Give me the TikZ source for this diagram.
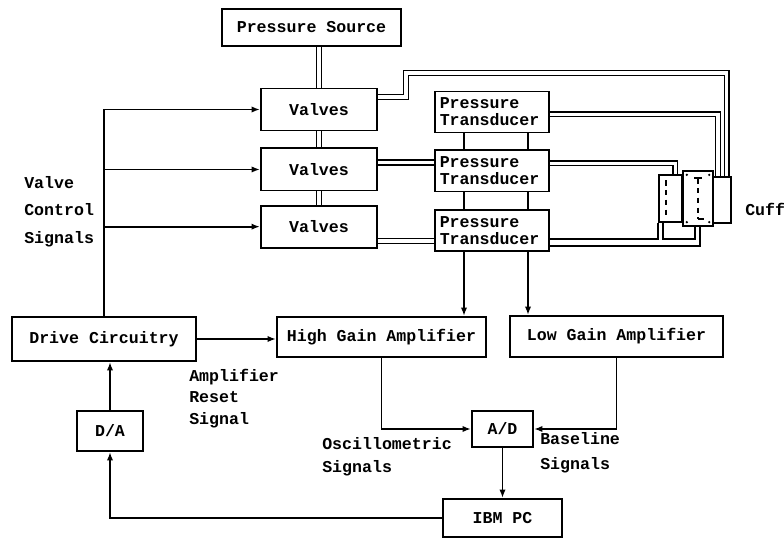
\documentclass[tikz,border=0pt]{standalone}
\usepackage{fontspec}
\setmonofont{Liberation Mono}
\usetikzlibrary{arrows.meta,positioning,calc}
\newcommand{\lblfont}{\fontsize{11.8}{14}\selectfont\ttfamily\bfseries}

\begin{document}
\begin{tikzpicture}[x=0.025cm, y=-0.025cm, >={Latex[length=6pt,width=4.5pt]}, every node/.style={font=\lblfont}]
\tikzstyle{box}=[draw, line width=1.4pt, inner sep=0pt, align=center]
\tikzstyle{tbox}=[box, align=left, inner xsep=0.12cm, text width=2.61cm, minimum height=1.025cm]
\tikzstyle{lbl}=[inner sep=0pt, align=left, anchor=west]
\tikzstyle{pipe}=[double, line width=1pt, double distance=2.3pt]
\tikzstyle{sig}=[line width=1.3pt]
\useasboundingbox (0,0) rectangle (784,538);
% valves and transducers
\node[box, minimum width=4.475cm, minimum height=0.925cm] (src) at (311.5,27.5) {Pressure Source};
\node[box, minimum width=2.9cm, minimum height=1.05cm] (v1) at (319,109.5) {Valves};
\node[box, minimum width=2.9cm, minimum height=1.05cm, below=0.4cm of v1] (v2) {Valves};
\node[box, minimum width=2.9cm, minimum height=1.05cm, below=0.33cm of v2] (v3) {Valves};
\node[tbox] (pt1) at (492,112) {Pressure\\[-2pt]Transducer};
\node[tbox, below=0.4cm of pt1] (pt2) {Pressure\\[-2pt]Transducer};
\node[tbox, below=0.42cm of pt2] (pt3) {Pressure\\[-2pt]Transducer};
% cuff
\node[box, minimum width=0.575cm, minimum height=1.175cm] (cl) at (670.5,198.5) {};
\node[box, minimum width=0.75cm, minimum height=1.375cm] (cm) at (698,198.5) {};
\node[box, minimum width=0.45cm, minimum height=1.15cm] (cr) at (722,200) {};
\draw[sig, dash pattern=on 4pt off 3pt] ([xshift=-0.11cm,yshift=-0.15cm]cl.north) -- ([xshift=-0.11cm,yshift=0.15cm]cl.south);
\draw[sig, dash pattern=on 4pt off 3pt] ([yshift=-0.2cm]cm.north) -- ([yshift=0.2cm]cm.south);
\draw[sig] ([xshift=-0.1cm,yshift=-0.2cm]cm.north) -- ([xshift=0.1cm,yshift=-0.2cm]cm.north);
\draw[sig] ([yshift=0.2cm]cm.south) -- ([xshift=0.15cm,yshift=0.2cm]cm.south);
\foreach \dx/\dy in {-0.28/-0.12, 0.28/-0.12} \fill ([xshift=\dx cm,yshift=\dy cm]cm.north) circle (0.9pt);
\foreach \dx/\dy in {-0.28/0.12, 0.28/0.12} \fill ([xshift=\dx cm,yshift=\dy cm]cm.south) circle (0.9pt);
\node[lbl] (cuff) at (745,209) {Cuff};
% amplifiers and converters
\node[box, minimum width=5.225cm, minimum height=1cm] (hga) at (381.5,337) {High Gain Amplifier};
\node[box, minimum width=5.325cm, minimum height=1.025cm] (lga) at (616.5,336.5) {Low Gain Amplifier};
\node[box, minimum width=4.6cm, minimum height=1.1cm] (drv) at (104,339) {Drive Circuitry};
\node[box, minimum width=1.65cm, minimum height=1cm] (da) at (110,431) {D/A};
\node[box, minimum width=1.525cm, minimum height=0.9cm] (ad) at (502.5,429) {A/D};
\node[box, minimum width=2.975cm, minimum height=0.95cm] (pc) at (502.5,518) {IBM PC};
% labels
\node[lbl] (vcs) at (24,211.5) {Valve\\[5.5pt]Control\\[5.5pt]Signals};
\node[lbl] (ars) at (189,398.5) {Amplifier\\[1.2pt]Reset\\[1.2pt]Signal};
\node[lbl] (osc) at (322,456.5) {Oscillometric\\[2.3pt]Signals};
\node[lbl] (bsl) at (540,452.5) {Baseline\\[3.7pt]Signals};
% pneumatic lines
\coordinate (v1bend) at (406,73);
\draw[pipe] (v1.north) -- (v1.north |- src.south);
\draw[pipe] (v1.south) -- (v2.north);
\draw[pipe] (v2.south) -- (v3.north);
\draw[pipe] ([yshift=0.175cm]v2.east) -- ([yshift=0.175cm]v2.east -| pt2.west);
\draw[pipe] ([yshift=-0.36cm]v3.east) -- ([yshift=-0.36cm]v3.east -| pt3.west);
\draw[pipe] ([yshift=0.31cm]v1.east) -| (v1bend) -| ([xshift=0.12cm]cr.north);
\draw[pipe] ([yshift=-0.06cm]pt1.east) -| ([xshift=-0.1cm]cr.north);
\draw[pipe] ([yshift=0.19cm]pt2.east) -| ([xshift=0.12cm]cl.north);
\draw[sig] ([yshift=-0.21cm]pt3.east) -| (cl.south west);
\draw[sig] ([yshift=-0.39cm]pt3.east) -| ([xshift=0.05cm]cm.south);
\draw[sig] (663,222) |- (695,239) -- (695,226);
% signal lines
\draw[sig] ([xshift=-0.7cm]pt1.south) -- ([xshift=-0.7cm]pt2.north);
\draw[sig] ([xshift=0.9cm]pt1.south) -- ([xshift=0.9cm]pt2.north);
\draw[sig] ([xshift=-0.7cm]pt2.south) -- ([xshift=-0.7cm]pt3.north);
\draw[sig] ([xshift=0.9cm]pt2.south) -- ([xshift=0.9cm]pt3.north);
\draw[sig,->] ([xshift=-0.7cm]pt3.south) -- ([xshift=-0.7cm]pt3.south |- hga.north);
\draw[sig,->] ([xshift=0.9cm]pt3.south) -- ([xshift=0.9cm]pt3.south |- lga.north);
\draw[sig,->] (drv.north) |- (v1.west);
\draw[sig,->] (drv.north |- v2.west) -- (v2.west);
\draw[sig,->] (drv.north |- v3.west) -- (v3.west);
\draw[sig,->] (drv.east) -- (drv.east -| hga.west);
\draw[sig,->] (da.north) -- (da.north |- drv.south);
\draw[sig,->] (pc.west) -| (da.south);
\draw[sig,->] (hga.south) |- (ad.west);
\draw[sig,->] (lga.south) |- (ad.east);
\draw[sig,->] (ad) -- (pc);
\end{tikzpicture}
\end{document}
